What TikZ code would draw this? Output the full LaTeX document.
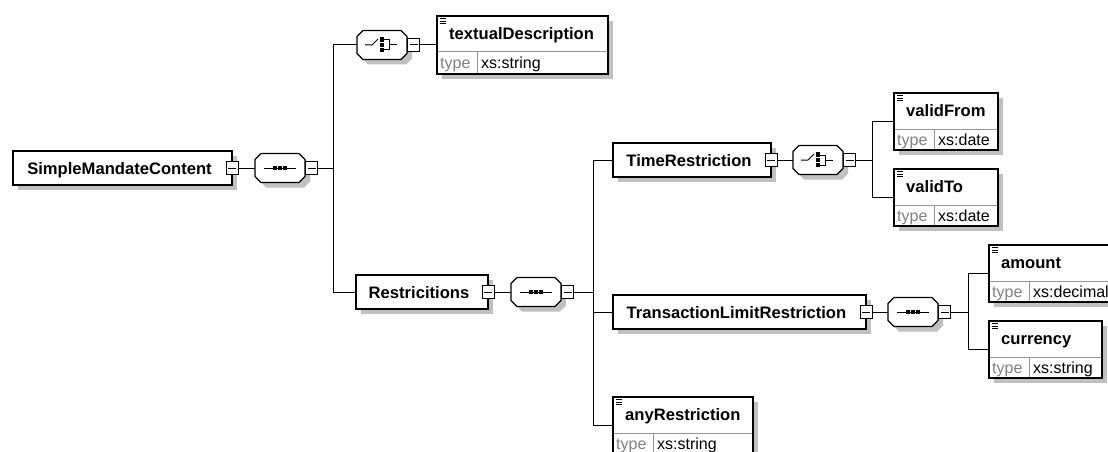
\documentclass[tikz,border=0pt]{standalone}
\usepackage{fontspec}
\setmainfont{Liberation Sans}
\usetikzlibrary{fit,calc}
\definecolor{shadowgray}{RGB}{192,192,192}
\definecolor{divgray}{RGB}{150,150,150}
\definecolor{typegray}{RGB}{128,128,128}
\tikzset{
  conn/.style={line width=1pt, draw=black},
  boxline/.style={line width=1.3pt, draw=black},
  minusbox/.style={draw=black, line width=1pt, fill=white, minimum width=12pt, minimum height=13pt, inner sep=0pt, outer sep=0pt,
    path picture={\draw[line width=1pt] ([xshift=2pt]path picture bounding box.west) -- ([xshift=-2pt]path picture bounding box.east);}},
  ename/.style={font=\fontsize{16.6}{19}\selectfont\bfseries, inner sep=0pt, anchor=base},
  enamel/.style={font=\fontsize{16.6}{19}\selectfont\bfseries, inner sep=0pt, anchor=base west},
  tlabel/.style={font=\fontsize{16}{18}\selectfont, text=typegray, inner sep=0pt, anchor=base west},
  tval/.style={font=\fontsize{16}{18}\selectfont, inner sep=0pt, anchor=base west},
  anchorbox/.style={inner sep=0pt, outer sep=0pt},
}
% plain element: name, x1, y1, x2, y2, label
\newcommand\elplain[6]{%
  \fill[shadowgray] (#2+5,#3+5) rectangle (#4+5,#5+5);
  \draw[boxline, fill=white] (#2,#3) rectangle (#4,#5);
  \node[anchorbox, fit={(#2,#3) (#4,#5)}] (#1) {};
  \node[ename] (#1t) at ($(#1.center)+(-3,6)$) {#6};
  \node[minusbox] (#1m) at (#1.east) {};
}
% typed element: name, x1, y1, x2, y2, label, type
\newcommand\eltyped[7]{%
  \fill[shadowgray] (#2+5,#3+5) rectangle (#4+5,#5+5);
  \fill[white] (#2,#3) rectangle (#4,#5);
  \draw[divgray, line width=1pt] (#2,#3+36) -- (#4,#3+36);
  \draw[divgray, line width=1pt] (#2+40,#3+36) -- (#2+40,#5);
  \draw[boxline] (#2,#3) rectangle (#4,#5);
  \node[anchorbox, fit={(#2,#3) (#4,#5)}] (#1) {};
  \draw[line width=0.8pt] (#2+3,#3+2.5) -- ++(6,0) (#2+3,#3+5) -- ++(6,0) (#2+3,#3+7.5) -- ++(6,0);
  \node[enamel] (#1t) at (#2+12,#3+23.5) {#6};
  \node[tlabel] (#1l) at (#2+3,#5-5) {type};
  \node[tval] (#1v) at (#2+44,#5-5) {#7};
}
\newcommand\iconseq{%
  \draw[line width=1pt] (-16,0) -- (16,0);
  \fill (-7,-2) rectangle (-3,2);
  \fill (-2,-2) rectangle (2,2);
  \fill (3,-2) rectangle (7,2);
}
\newcommand\iconchoice{%
  \draw[line width=1pt] (-17,0) -- (-10,0) -- (-4,-6);
  \draw[line width=1pt] (1,-5) -- (7,-5) -- (7,5) -- (1,5) (7,0) -- (15,0);
  \fill (-2,-8) rectangle (2,-3);
  \fill (-2,-2) rectangle (2,2);
  \fill (-2,3) rectangle (2,7);
}
% compositor: name, cx, cy, kind
\newcommand\compo[4]{%
  \begin{scope}[shift={(#2,#3)}]
    \fill[shadowgray] (-14,-9.5) -- (24,-9.5) -- (30,-3.5) -- (30,13.5) -- (24,19.5) -- (-14,19.5) -- (-20,13.5) -- (-20,-3.5) -- cycle;
    \draw[boxline, fill=white] (-19,-14.5) -- (19,-14.5) -- (25,-8.5) -- (25,8.5) -- (19,14.5) -- (-19,14.5) -- (-25,8.5) -- (-25,-8.5) -- cycle;
    \node[anchorbox, minimum width=50pt, minimum height=29pt] (#1) at (0,0) {};
    \csname icon#4\endcsname
    \node[minusbox] (#1m) at (31.5,0) {};
  \end{scope}%
}
\begin{document}
\begin{tikzpicture}[x=1pt, y=-1pt]
\useasboundingbox (0,0) rectangle (1108,452);
\clip (0,0) rectangle (1108,452);
\fill[white] (0,0) rectangle (1108,452);

\elplain{smc}{13}{151}{232}{185}{SimpleMandateContent}
\compo{seq1}{280}{168}{seq}
\compo{ch1}{382}{45}{choice}
\eltyped{textdesc}{437}{16}{608}{74}{textualDescription}{xs:string}
\elplain{restr}{356}{275}{488}{309}{Restricitions}
\compo{seq2}{536}{292}{seq}
\elplain{time}{613}{143}{771}{177}{TimeRestriction}
\compo{ch2}{818}{160}{choice}
\eltyped{vfrom}{894}{93}{998}{150}{validFrom}{xs:date}
\eltyped{vto}{894}{169}{998}{226}{validTo}{xs:date}
\elplain{tlr}{613}{295}{866}{329}{TransactionLimitRestriction}
\compo{seq3}{913}{312}{seq}
\eltyped{amount}{989}{245}{1118}{302}{amount}{xs:decimal}
\eltyped{currency}{989}{321}{1102}{378}{currency}{xs:string}
\eltyped{anyr}{613}{397}{753}{454}{anyRestriction}{xs:string}

\coordinate (j1) at (333,168);
\coordinate (j2) at (593,292);
\coordinate (j3) at (872,160);
\coordinate (j4) at (968,312);

\draw[conn] (smcm.east) -- (seq1.west);
\draw[conn] (seq1m.east) -- (j1);
\draw[conn] (j1) |- (ch1.west);
\draw[conn] (j1) |- (restr.west);
\draw[conn] (ch1m.east) -- (textdesc.west);
\draw[conn] (restrm.east) -- (seq2.west);
\draw[conn] (seq2m.east) -- (j2);
\draw[conn] (j2) |- (time.west);
\draw[conn] (j2) |- (tlr.west);
\draw[conn] (j2) |- (anyr.west);
\draw[conn] (timem.east) -- (ch2.west);
\draw[conn] (ch2m.east) -- (j3);
\draw[conn] (j3) |- (vfrom.west);
\draw[conn] (j3) |- (vto.west);
\draw[conn] (tlrm.east) -- (seq3.west);
\draw[conn] (seq3m.east) -- (j4);
\draw[conn] (j4) |- (amount.west);
\draw[conn] (j4) |- (currency.west);
\end{tikzpicture}
\end{document}
